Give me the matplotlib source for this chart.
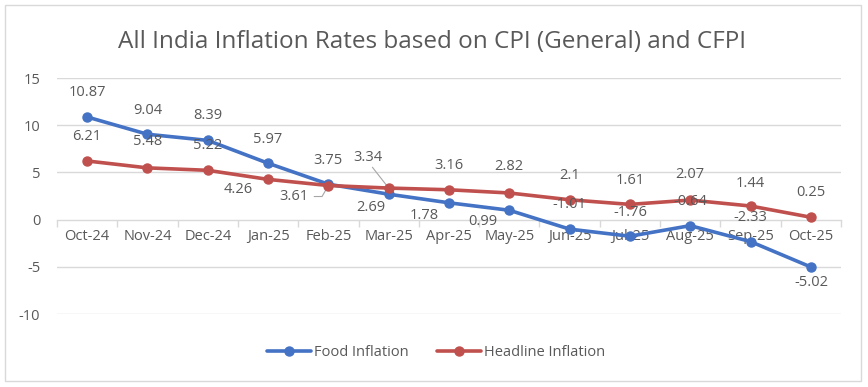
import matplotlib
matplotlib.use("Agg")
import matplotlib.pyplot as plt
from matplotlib.patches import Rectangle

months = ["Oct-24", "Nov-24", "Dec-24", "Jan-25", "Feb-25", "Mar-25", "Apr-25",
          "May-25", "Jun-25", "Jul-25", "Aug-25", "Sep-25", "Oct-25"]
food = [10.87, 9.04, 8.39, 5.97, 3.75, 2.69, 1.78, 0.99, -1.01, -1.76, -0.64, -2.33, -5.02]
headline = [6.21, 5.48, 5.22, 4.26, 3.61, 3.34, 3.16, 2.82, 2.1, 1.61, 2.07, 1.44, 0.25]
yticks = [-10, -5, 0, 5, 10, 15]
title = "All India Inflation Rates based on CPI (General) and CFPI"

# label offsets in pixels (dx, dy) relative to the point
food_off = [(0, 24), (0, 24), (0, 25), (0, 24), (0, 24), (-18, -13), (-25, -13), (-26, -11),
            (0, 25), (0, 24), (0, 24), (0, 24), (1, -16)]
head_off = [(0, 24), (0, 26), (0, 25), (-30, -10), (-35, -11), (-21, 31), (0, 24), (0, 26),
            (0, 24), (0, 24), (0, 26), (0, 23), (0, 25)]

FONT = "Open Sans"
plt.rcParams["font.family"] = [FONT, "DejaVu Sans"]
blue = "#4472C4"
red = "#C0504D"
grey = "#595959"
FS = 10.5

W, H = 868, 387
fig = plt.figure(figsize=(W / 100, H / 100), dpi=100)
fig.patch.set_facecolor("white")
fig.patches.append(Rectangle((5 / W, 1 - 381 / H), 856 / W, 376 / H, transform=fig.transFigure,
                             fill=False, edgecolor="#d9d9d9", linewidth=1.0))

ax = fig.add_axes([57 / W, 1 - 314 / H, (841 - 57) / W, (314 - 78) / H])
ax.set_xlim(-0.5, len(months) - 0.5)
ax.set_ylim(-10, 15)
x = list(range(len(months)))

for v in yticks:
    if v != 0:
        ax.axhline(v, color="#d9d9d9", linewidth=1.0, zorder=0)

for s in ["top", "right", "left"]:
    ax.spines[s].set_visible(False)
ax.spines["bottom"].set_position(("data", 0))
ax.spines["bottom"].set_color("#d9d9d9")
ax.spines["bottom"].set_linewidth(1.0)
ax.set_xticks(x)
ax.set_xticklabels(months, fontsize=FS, color=grey)
ax.set_xticks([i - 0.5 for i in range(len(months) + 1)], minor=True)
ax.tick_params(axis="x", which="major", length=0, pad=7)
ax.tick_params(axis="x", which="minor", length=5, color="#d9d9d9", width=1)
ax.set_yticks(yticks)
ax.set_yticklabels([str(v) for v in yticks], fontsize=FS, color=grey)
ax.tick_params(axis="y", length=0, pad=12)

ax.plot(x, food, color=blue, linewidth=2.6, marker="o", markersize=6.5, label="Food Inflation", zorder=3,
        solid_capstyle="round")
ax.plot(x, headline, color=red, linewidth=2.6, marker="o", markersize=6.5, label="Headline Inflation",
        zorder=4, solid_capstyle="round")

def fmt(v):
    s = f"{v:.2f}".rstrip("0").rstrip(".") if abs(v * 10 - round(v * 10)) < 1e-9 else f"{v:.2f}"
    return s

for i, (v, (dx, dy)) in enumerate(zip(food, food_off)):
    ax.annotate(fmt(v), (i, v), xytext=(dx * 0.72, dy * 0.72), textcoords="offset points",
                ha="center", va="center", fontsize=FS, color=grey, zorder=5)
for i, (v, (dx, dy)) in enumerate(zip(headline, head_off)):
    ax.annotate(fmt(v), (i, v), xytext=(dx * 0.72, dy * 0.72), textcoords="offset points",
                ha="center", va="center", fontsize=FS, color=grey, zorder=5)

# leader lines for crowded labels (Feb-25 and Mar-25 headline)
ax.annotate("", (4, headline[4]), xytext=(-17 * 0.72, -11 * 0.72), textcoords="offset points",
            arrowprops=dict(arrowstyle="-", color="#a6a6a6", lw=0.8,
                            connectionstyle="angle,angleA=0,angleB=60,rad=0"))
ax.annotate("", (5, headline[5]), xytext=(-18 * 0.72, 23 * 0.72), textcoords="offset points",
            arrowprops=dict(arrowstyle="-", color="#a6a6a6", lw=0.8))

fig.text(432 / W, 1 - 42 / H, title, ha="center", va="center", fontsize=17.5, color=grey)

leg = fig.legend(loc="center", bbox_to_anchor=(436 / W, 1 - 353 / H), ncol=2, frameon=False,
                 fontsize=FS, handlelength=3, columnspacing=2.0, handletextpad=0.2)
for t in leg.get_texts():
    t.set_color(grey)

fig.savefig("out.png", dpi=100, facecolor="white")
